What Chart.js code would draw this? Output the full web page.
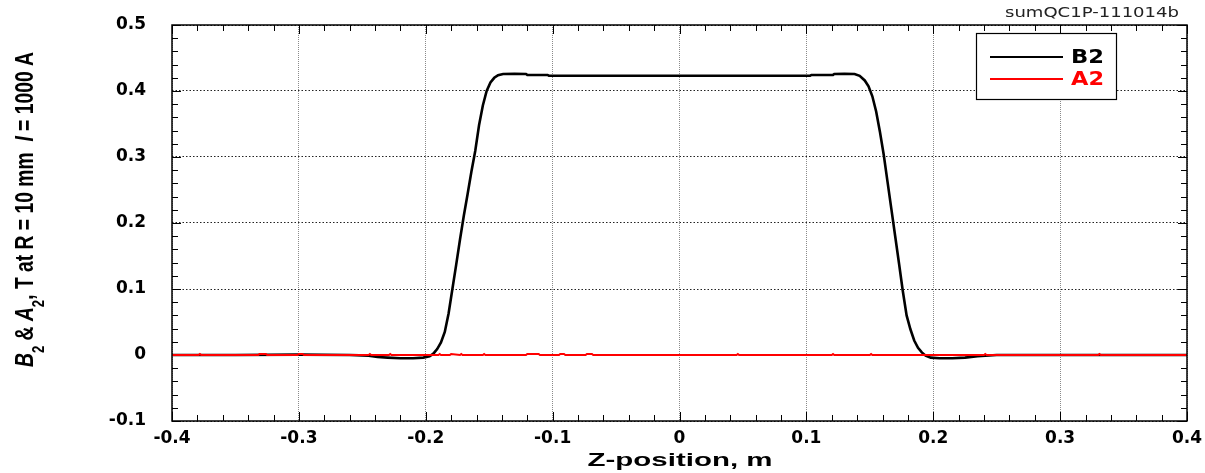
<!DOCTYPE html>
<html><head><meta charset="utf-8">
<script src="https://cdn.jsdelivr.net/npm/chart.js@4/dist/chart.umd.min.js"></script>
<style>html,body{margin:0;padding:0;background:#fff;overflow:hidden}#wrap{width:1205px;height:473px;position:relative}</style>
</head><body><div id="wrap"><canvas id="c" width="1205" height="473"></canvas></div>
<script>
// ---- data ----
const zB2 = [-0.4,-0.35,-0.3,-0.26,-0.245,-0.238,-0.23,-0.22,-0.21,-0.202,-0.197,-0.194,-0.191,-0.188,-0.185,-0.182,-0.179,-0.176,-0.173,-0.170,-0.167,-0.164,-0.161,-0.158,-0.155,-0.152,-0.149,-0.146,-0.143,-0.139,-0.130,-0.121,-0.120,-0.104,-0.103,0.0,0.103,0.104,0.121,0.122,0.130,0.138,0.142,0.146,0.149,0.152,0.155,0.158,0.161,0.164,0.167,0.170,0.173,0.176,0.179,0.182,0.185,0.188,0.191,0.194,0.198,0.205,0.215,0.225,0.235,0.25,0.3,0.35,0.4];
const b2 = [0,0,0.0005,0,-0.001,-0.003,-0.004,-0.005,-0.005,-0.004,-0.002,0.002,0.009,0.019,0.035,0.063,0.100,0.137,0.175,0.211,0.244,0.278,0.309,0.348,0.378,0.400,0.413,0.420,0.424,0.4258,0.4262,0.4258,0.4245,0.4243,0.4232,0.4232,0.4232,0.4243,0.4245,0.4258,0.4262,0.4258,0.423,0.416,0.407,0.392,0.369,0.338,0.303,0.262,0.221,0.180,0.139,0.097,0.060,0.039,0.022,0.011,0.004,-0.001,-0.004,-0.005,-0.005,-0.004,-0.002,0,0,0,0];
const zA2 = [-0.4,-0.379,-0.378,-0.377,-0.332,-0.331,-0.326,-0.325,-0.301,-0.300,-0.297,-0.296,-0.245,-0.244,-0.243,-0.229,-0.228,-0.227,-0.190,-0.189,-0.188,-0.181,-0.180,-0.173,-0.172,-0.171,-0.155,-0.154,-0.153,-0.121,-0.120,-0.111,-0.110,-0.095,-0.094,-0.091,-0.090,-0.074,-0.073,-0.069,-0.068,-0.02,0.0,0.045,0.046,0.047,0.1,0.12,0.121,0.122,0.15,0.151,0.152,0.2,0.24,0.241,0.242,0.3,0.33,0.331,0.332,0.4];
const a2 = [0,0,0.0015,0,0,0.0015,0.0015,0,0,0.0015,0.0015,0,0,0.0015,0,0,0.0015,0,0,0.0015,0,0,0.0015,0,0.0015,0,0,0.0015,0,0,0.0015,0.0015,0,0,0.0015,0.0015,0,0,0.0015,0.0015,0,0,0,0,0.0015,0,0,0,0.0015,0,0,0.0015,0,0,0,0.0015,0,0,0,0.0015,0,0];
const xTicks = [-0.4,-0.3,-0.2,-0.1,0,0.1,0.2,0.3,0.4];
const xTickLabels = ['-0.4','-0.3','-0.2','-0.1','0','0.1','0.2','0.3','0.4'];
const yTicks = [-0.1,0,0.1,0.2,0.3,0.4,0.5];
const yTickLabels = ['-0.1','0','0.1','0.2','0.3','0.4','0.5'];
const seriesLabels = ['B2','A2'];
const xTitle = 'Z-position, m';
const cornerText = 'sumQC1P-111014b';

// ---- helpers ----
function scaledText(ctx, text, x, y, font, color, targetW, align) {
  ctx.save();
  ctx.font = font;
  const w = ctx.measureText(text).width;
  const s = targetW ? targetW / w : 1;
  ctx.translate(x, y);
  ctx.scale(s, 1);
  ctx.textAlign = align || 'center';
  ctx.textBaseline = 'middle';
  ctx.fillStyle = color;
  ctx.fillText(text, 0, 0);
  ctx.restore();
}

const decor = {
  id: 'decor',
  beforeDatasetsDraw(chart) {
    const ctx = chart.ctx, a = chart.chartArea, xs = chart.scales.x, ys = chart.scales.y;
    ctx.save();
    ctx.strokeStyle = '#000';
    ctx.lineWidth = 1;
    ctx.beginPath();
    for (let i = 0; i <= 40; i++) {
      const v = -0.4 + i * 0.02;
      const p = Math.round(xs.getPixelForValue(v)) + 0.5;
      const major = i % 5 === 0;
      const L = major ? 9 : 6;
      ctx.moveTo(p, a.bottom); ctx.lineTo(p, a.bottom - L);
      ctx.moveTo(p, a.top); ctx.lineTo(p, a.top + L);
    }
    for (let i = 0; i <= 30; i++) {
      const v = -0.1 + i * 0.02;
      const p = Math.round(ys.getPixelForValue(v)) + 0.5;
      const major = i % 5 === 0;
      const L = major ? 9 : 6;
      ctx.moveTo(a.left, p); ctx.lineTo(a.left + L, p);
      ctx.moveTo(a.right, p); ctx.lineTo(a.right - L, p);
    }
    ctx.stroke();
    ctx.restore();
  },
  afterDatasetsDraw(chart) {
    const ctx = chart.ctx, a = chart.chartArea;
    ctx.save();
    ctx.strokeStyle = '#000';
    ctx.lineWidth = 1.5;
    ctx.strokeRect(a.left, a.top, a.right - a.left, a.bottom - a.top);
    ctx.restore();
  },
  afterDraw(chart) {
    const ctx = chart.ctx;
    // legend box
    ctx.save();
    ctx.fillStyle = '#fff';
    ctx.fillRect(976.5, 33.5, 140, 66);
    ctx.strokeStyle = '#000';
    ctx.lineWidth = 1.2;
    ctx.strokeRect(976.5, 33.5, 140, 66);
    const rows = [57, 79];
    chart.data.datasets.forEach((ds, i) => {
      ctx.strokeStyle = ds.borderColor;
      ctx.lineWidth = 2;
      ctx.beginPath();
      ctx.moveTo(990, rows[i]); ctx.lineTo(1063, rows[i]);
      ctx.stroke();
      scaledText(ctx, ds.label, 1071, rows[i] + 1, 'bold 19px "DejaVu Sans"', ds.borderColor, 33, 'left');
    });
    ctx.restore();
    // corner text
    scaledText(ctx, cornerText, 1179, 13, '14px "DejaVu Sans"', '#222', 174, 'right');
    // x title
    scaledText(ctx, xTitle, 680, 461, 'bold 19px "Liberation Sans"', '#000', 185, 'center');
    // y title with subscripts / italics
    const segs = [
      {t:'B', it:true}, {t:'2', sub:true}, {t:' & '}, {t:'A', it:true}, {t:'2', sub:true},
      {t:', T at R = 10 mm  '}, {t:'I', it:true}, {t:' = 1000 A'}
    ];
    const fMain = 25, fSub = 17;
    const fontOf = s => (s.it ? 'italic ' : '') + 'bold ' + (s.sub ? fSub : fMain) + 'px "Liberation Sans"';
    let total = 0;
    segs.forEach(s => { ctx.font = fontOf(s); s.w = ctx.measureText(s.t).width; total += s.w; });
    const targetL = 315;
    const k = targetL / total;
    ctx.save();
    ctx.translate(33, 209.5);
    ctx.rotate(-Math.PI / 2);
    ctx.scale(k, 1);
    ctx.fillStyle = '#000';
    ctx.textBaseline = 'alphabetic';
    ctx.textAlign = 'left';
    let xx = -total / 2;
    segs.forEach(s => {
      ctx.font = fontOf(s);
      ctx.fillText(s.t, xx, s.sub ? 11 : 0);
      xx += s.w;
    });
    ctx.restore();
  }
};

const tickFont = {family: '"DejaVu Sans"', size: 17, weight: 'bold'};

new Chart(document.getElementById('c'), {
  type: 'line',
  data: {
    datasets: [
      {label: seriesLabels[0], order: 2, data: zB2.map((z, i) => ({x: z, y: b2[i]})), borderColor: '#000', borderWidth: 2.6, pointRadius: 0, tension: 0, fill: false},
      {label: seriesLabels[1], order: 1, data: zA2.map((z, i) => ({x: z, y: a2[i]})), borderColor: '#ff0000', borderWidth: 2, pointRadius: 0, tension: 0, fill: false}
    ]
  },
  options: {
    responsive: false,
    animation: false,
    devicePixelRatio: 1,
    layout: {padding: {top: 25, right: 18, left: 0, bottom: 0}},
    plugins: {legend: {display: false}, title: {display: false}, tooltip: {enabled: false}},
    scales: {
      x: {
        type: 'linear', min: -0.4, max: 0.4,
        afterBuildTicks: s => { s.ticks = xTicks.map(v => ({value: v})); },
        afterFit: s => { s.height = 52; s.paddingLeft = 0; s.paddingRight = 0; },
        ticks: {callback: (v, i) => xTickLabels[i], font: tickFont, color: '#000', padding: 7, maxRotation: 0, autoSkip: false},
        grid: {color: '#8a8a8a', lineWidth: 1, drawTicks: false},
        border: {display: false, dash: [1, 1]}
      },
      y: {
        type: 'linear', min: -0.1, max: 0.5,
        afterBuildTicks: s => { s.ticks = yTicks.map(v => ({value: v})); },
        afterFit: s => { s.width = 172; s.paddingTop = 0; s.paddingBottom = 0; },
        ticks: {callback: (v, i) => yTickLabels[i], font: tickFont, color: '#000', padding: 26},
        grid: {color: '#222', lineWidth: 1, drawTicks: false},
        border: {display: false, dash: [1.5, 2]}
      }
    }
  },
  plugins: [decor]
});
</script></body></html>
